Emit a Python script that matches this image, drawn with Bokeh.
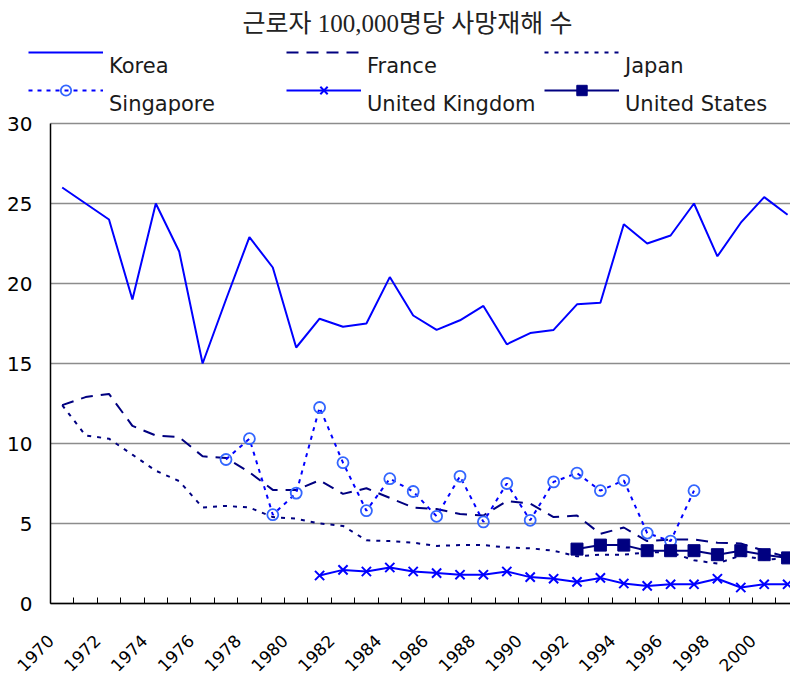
import math
from bokeh.plotting import figure
from bokeh.models import (Range1d, FixedTicker, Legend, LegendItem, Label)
from bokeh.embed import file_html
from bokeh.resources import INLINE

# ---------------- data ----------------
years = list(range(1970, 2002))

korea = [26.0, 25.0, 24.0, 19.0, 25.0, 22.0, 15.0, 19.0, 22.9, 21.0,
         16.0, 17.8, 17.3, 17.5, 20.4, 18.0, 17.1, 17.7, 18.6, 16.2,
         16.9, 17.1, 18.7, 18.8, 23.7, 22.5, 23.0, 25.0, 21.7, 23.8,
         25.4, 24.3]

france = [12.4, 12.9, 13.1, 11.1, 10.5, 10.4, 9.2, 9.1, 8.2, 7.1,
          7.1, 7.7, 6.85, 7.2, 6.6, 6.0, 5.9, 5.6, 5.5, 6.4,
          6.25, 5.4, 5.5, 4.35, 4.75, 3.9, 4.0, 4.0, 3.8, 3.75,
          3.3, 2.9]

japan = [12.4, 10.5, 10.3, 9.3, 8.3, 7.65, 6.0, 6.1, 6.0, 5.4,
         5.3, 5.0, 4.85, 3.95, 3.9, 3.8, 3.6, 3.65, 3.65, 3.5,
         3.45, 3.3, 2.95, 3.05, 3.05, 3.2, 3.2, 2.7, 2.5, 3.0,
         2.75, 2.8]

singapore_years = list(range(1977, 1998))
singapore = [9.0, 10.3, 5.55, 6.9, 12.25, 8.8, 5.8, 7.8, 7.0, 5.45,
             7.95, 5.1, 7.5, 5.2, 7.6, 8.15, 7.05, 7.7, 4.4, 3.9, 7.05]

uk_years = list(range(1981, 2002))
uk = [1.75, 2.1, 2.0, 2.25, 2.0, 1.9, 1.8, 1.8, 2.0, 1.65,
      1.55, 1.35, 1.6, 1.25, 1.1, 1.2, 1.2, 1.55, 1.0, 1.2, 1.2]

us_years = list(range(1992, 2002))
us = [3.4, 3.65, 3.65, 3.3, 3.3, 3.3, 3.05, 3.3, 3.05, 2.85]

y_ticks = [0, 5, 10, 15, 20, 25, 30]
x_tick_labels = ["1970", "1972", "1974", "1976", "1978", "1980", "1982",
                 "1984", "1986", "1988", "1990", "1992", "1994", "1996",
                 "1998", "2000"]
series_names = ["Korea", "France", "Japan",
                "Singapore", "United Kingdom", "United States"]

title_text = "근로자 100,000명당 사망재해 수"

# ---------------- layout constants (pixels) ----------------
W, H = 790, 677
plot_left, plot_bottom = 50, 603      # where the axes cross
px_per_year, px_per_unit = 23.4, 16.0

x0 = years[0] - 0.5
y_lo = -(H - plot_bottom) / px_per_unit
y_hi = plot_bottom / px_per_unit
x_lo = x0 - plot_left / px_per_year
x_hi = x0 + (W - plot_left) / px_per_year

p = figure(width=W, height=H, output_backend="svg", toolbar_location=None,
           x_range=Range1d(x_lo, x_hi), y_range=Range1d(y_lo, y_hi),
           min_border_left=0, min_border_right=0,
           min_border_top=0, min_border_bottom=0)
p.outline_line_color = None
p.background_fill_color = "white"
p.border_fill_color = "white"

# y axis, fixed at the first category boundary
p.yaxis.fixed_location = x0
p.yaxis.ticker = FixedTicker(ticks=y_ticks)
p.yaxis.bounds = (y_ticks[0], y_ticks[-1])
p.yaxis.minor_tick_line_color = None
p.yaxis.major_tick_in = 0
p.yaxis.major_tick_out = 0
p.yaxis.major_label_standoff = 18
p.yaxis.major_label_text_font = "DejaVu Sans"
p.yaxis.major_label_text_font_size = "20px"
p.yaxis.major_label_text_color = "black"
p.yaxis.axis_line_color = "black"
p.yaxis.axis_line_width = 1.5

# x axis: category boundaries as ticks, labels every other year
bounds = [x0 + i for i in range(len(years) + 1)]
overrides = {}
for i, b in enumerate(bounds):
    overrides[b] = x_tick_labels[i // 2] if (i % 2 == 0 and i // 2 < len(x_tick_labels)) else ""
p.xaxis.fixed_location = 0
p.xaxis.ticker = FixedTicker(ticks=bounds, minor_ticks=[])
p.xaxis.bounds = (bounds[0], bounds[-1])
p.xaxis.major_label_overrides = overrides
p.xaxis.major_label_orientation = math.pi / 4
p.xaxis.major_tick_in = 6
p.xaxis.major_tick_out = 0
p.xaxis.major_tick_line_color = "black"
p.xaxis.major_tick_line_width = 1
p.xaxis.minor_tick_line_color = None
p.xaxis.major_label_standoff = 34
p.xaxis.major_label_text_font = "DejaVu Sans"
p.xaxis.major_label_text_font_size = "17px"
p.xaxis.major_label_text_color = "black"
p.xaxis.axis_line_color = "black"
p.xaxis.axis_line_width = 1.5

p.xgrid.visible = False
p.ygrid.ticker = FixedTicker(ticks=y_ticks)
p.ygrid.bounds = (y_ticks[0], y_ticks[-1])
p.ygrid.cross_bounds = (bounds[0], bounds[-1])
p.ygrid.grid_line_color = "#8c8c8c"
p.ygrid.grid_line_width = 1.5

# ---------------- series ----------------
r_korea = p.line(years, korea, line_color="#0000ff", line_width=2)
r_france = p.line(years, france, line_color="#000080", line_width=2,
                  line_dash="12 8")
r_japan = p.line(years, japan, line_color="#000080", line_width=2,
                 line_dash="4 6")
r_sg_l = p.line(singapore_years, singapore, line_color="#0000ff", line_width=2,
                line_dash="4 5")
r_sg_m = p.scatter(singapore_years, singapore, marker="circle", size=11,
                   line_color="#3366ff", line_width=1.8, fill_color=None)
r_uk_l = p.line(uk_years, uk, line_color="#0000ff", line_width=2)
r_uk_m = p.scatter(uk_years, uk, marker="x", size=13, line_color="#0000ff",
                   line_width=2)
r_us_l = p.line(us_years, us, line_color="#000080", line_width=2)
r_us_m = p.scatter(us_years, us, marker="square", size=12,
                   line_color="#000080", fill_color="#000080")

item_renderers = [[r_korea], [r_france], [r_japan],
                  [r_sg_l, r_sg_m], [r_uk_l, r_uk_m], [r_us_l, r_us_m]]

# ---------------- legend: samples (lines + markers) ----------------
legend_glyphs = Legend(items=[LegendItem(label=" ", renderers=rs)
                              for rs in item_renderers],
    location=(28, H - 103), orientation="horizontal", ncols=3,
    glyph_width=75, glyph_height=26, label_standoff=6, label_width=165,
    label_height=26, spacing=12, padding=0, margin=0,
    border_line_color=None, background_fill_alpha=0,
    label_text_font="DejaVu Sans", label_text_font_size="10px")
p.add_layout(legend_glyphs, "center")

# ---------------- legend: names (sit below their samples) ----------------
legend_names = Legend(items=[LegendItem(label=n, renderers=rs)
                             for n, rs in zip(series_names, item_renderers)],
    location=(109, H - 117), orientation="horizontal", ncols=3,
    glyph_width=0, glyph_height=26, label_standoff=0, label_width=246,
    label_height=26, spacing=12, padding=0, margin=0,
    border_line_color=None, background_fill_alpha=0,
    label_text_font="DejaVu Sans", label_text_font_size="21px",
    label_text_color="#1a1a1a")
p.add_layout(legend_names, "center")

# ---------------- title ----------------
title = Label(x=407, y=H - 23, x_units="screen", y_units="screen",
              text=title_text, text_align="center", text_baseline="middle",
              text_font="Liberation Serif, Noto Sans CJK KR",
              text_font_size="25px", text_color="#222222")
p.add_layout(title)

open("out.html", "w").write(file_html(p, INLINE))
